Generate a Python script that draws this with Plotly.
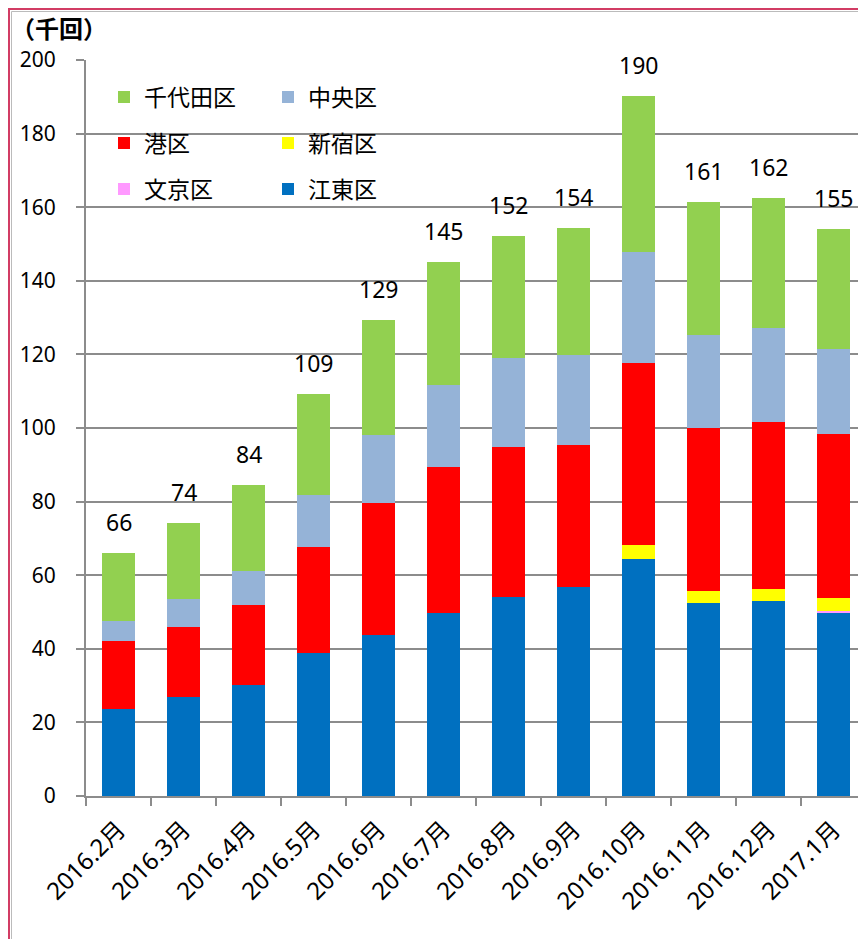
import plotly.graph_objects as go

months = ["2016.2月", "2016.3月", "2016.4月", "2016.5月", "2016.6月", "2016.7月",
          "2016.8月", "2016.9月", "2016.10月", "2016.11月", "2016.12月", "2017.1月"]

koto = [23.6, 26.9, 30.2, 38.9, 43.8, 49.7, 54.1, 56.8, 64.4, 52.4, 52.9, 49.6]
bunkyo = [0, 0, 0, 0, 0, 0, 0, 0, 0, 0, 0, 0.6]
shinjuku = [0, 0, 0, 0, 0, 0, 0, 0, 3.7, 3.2, 3.3, 3.7]
minato = [18.5, 19.0, 21.7, 28.8, 35.8, 39.7, 40.7, 38.6, 49.6, 44.4, 45.4, 44.4]
chuo = [5.5, 7.6, 9.2, 14.1, 18.5, 22.3, 24.2, 24.4, 30.1, 25.3, 25.6, 23.3]
chiyoda = [18.4, 20.7, 23.4, 27.4, 31.2, 33.4, 33.2, 34.5, 42.4, 36.1, 35.3, 32.6]
totals = [66, 74, 84, 109, 129, 145, 152, 154, 190, 161, 162, 155]

series = [
    ("江東区", koto, "#0070C0", "legend3"),
    ("文京区", bunkyo, "#FF99FF", "legend3"),
    ("新宿区", shinjuku, "#FFFF00", "legend2"),
    ("港区", minato, "#FF0000", "legend2"),
    ("中央区", chuo, "#95B3D7", "legend"),
    ("千代田区", chiyoda, "#92D050", "legend"),
]

FONT = "Noto Sans, Noto Sans CJK JP"
CJK = "Noto Sans CJK JP"

fig = go.Figure()
for name, vals, color, lg in series:
    fig.add_trace(go.Bar(
        x=months, y=vals, name=name, legend=lg,
        marker=dict(color=color, line=dict(width=0)),
    ))

stack_tops = [sum(v) for v in zip(koto, bunkyo, shinjuku, minato, chuo, chiyoda)]
for m, top, t in zip(months, stack_tops, totals):
    fig.add_annotation(x=m, y=top, text=str(t), showarrow=False,
                       yanchor="middle", yshift=31,
                       font=dict(family=FONT, size=23, color="#000000"))

# the page body has an 8px margin, so the figure is drawn from page (8, 8)
OFF = 8
W, H = 866 - OFF, 939 - OFF
L = 86 - OFF
T = 60 - OFF
R = 0
B = H - (796 - OFF)
pw = W - L - R
ph = H - T - B


def px_x(p):
    """page x pixel -> paper x"""
    return (p - OFF - L) / pw


def px_y(p):
    """page y pixel -> paper y"""
    return (H - B - (p - OFF)) / ph


fig.add_annotation(xref="paper", yref="paper", x=px_x(9), y=px_y(27),
                   xanchor="left", yanchor="middle", showarrow=False,
                   text="<b>（千回）</b>",
                   font=dict(family=CJK, size=24, color="#000000"))

fig.add_shape(type="rect", xref="paper", yref="paper",
              x0=px_x(9), y0=px_y(9), x1=px_x(880), y1=px_y(960),
              line=dict(color="#D23C64", width=2), fillcolor="rgba(0,0,0,0)")
fig.add_shape(type="rect", xref="paper", yref="paper",
              x0=px_x(11.5), y0=px_y(11.5), x1=px_x(878), y1=px_y(958),
              line=dict(color="#BBBBBB", width=1), fillcolor="rgba(0,0,0,0)")

leg_common = dict(orientation="h", entrywidth=119, entrywidthmode="pixels",
                  traceorder="reversed", bgcolor="rgba(0,0,0,0)",
                  font=dict(family=CJK, size=23, color="#000000"),
                  xanchor="left", yanchor="middle", x=px_x(104))

fig.update_layout(
    width=W, height=H,
    margin=dict(l=L, r=R, t=T, b=B, autoexpand=False),
    paper_bgcolor="white", plot_bgcolor="white",
    barmode="stack", bargap=0.5,
    font=dict(family=FONT, size=21, color="#000000"),
    showlegend=True,
    legend=dict(**leg_common, y=px_y(97)),
    legend2=dict(**leg_common, y=px_y(143)),
    legend3=dict(**leg_common, y=px_y(189)),
    xaxis=dict(
        type="category", tickangle=-45, automargin=False,
        tickfont=dict(family=FONT, size=24, color="#000000"),
        showline=True, linecolor="#8C8C8C", linewidth=2,
        ticks="outside", tickson="boundaries", ticklen=8,
        tickcolor="#8C8C8C", tickwidth=2, ticklabelstandoff=8,
        showgrid=False, range=[-0.5, 11.5],
    ),
    yaxis=dict(
        range=[0, 200], dtick=20, tick0=0, automargin=False,
        tickfont=dict(family=FONT, size=21, color="#000000"),
        showline=True, linecolor="#8C8C8C", linewidth=2,
        ticks="outside", ticklen=8, tickcolor="#8C8C8C", tickwidth=2,
        ticklabelstandoff=16,
        showgrid=True, gridcolor="#8C8C8C", gridwidth=1.5,
        zeroline=False,
    ),
)

fig.write_html("out.html")
